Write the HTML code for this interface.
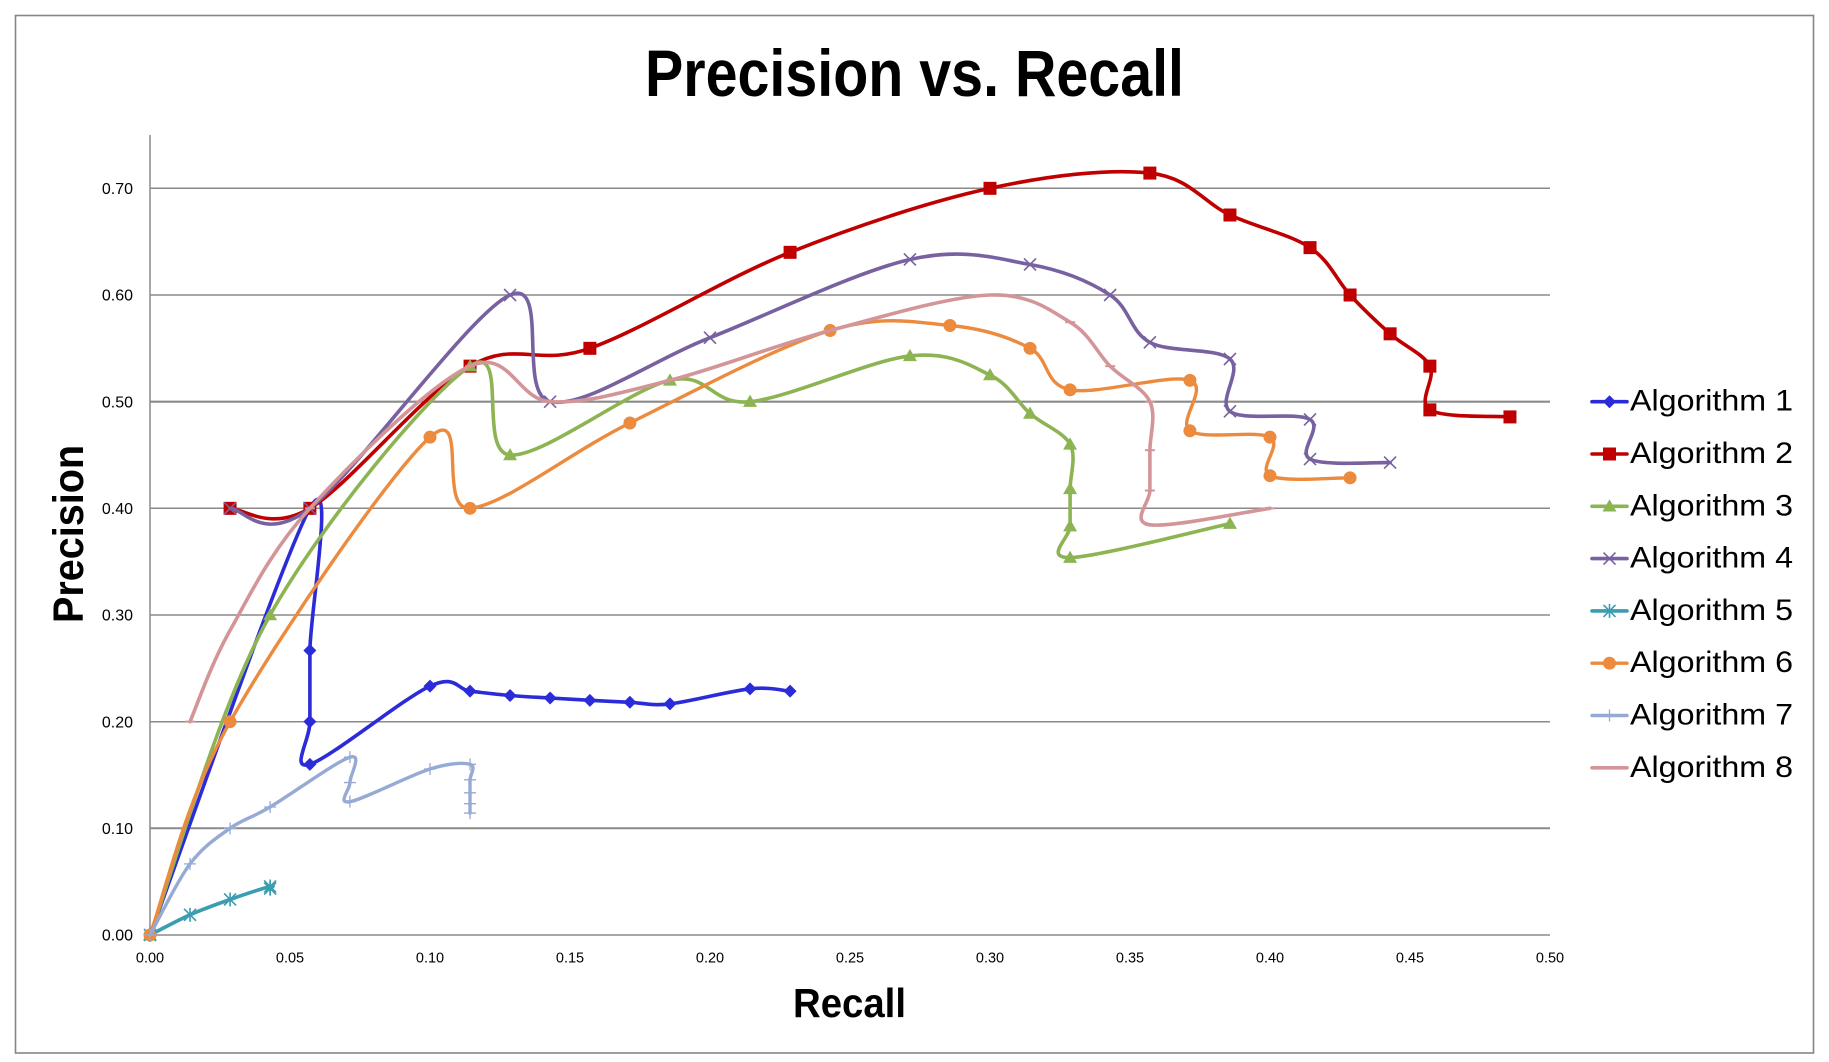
<!DOCTYPE html>
<html>
<head>
<meta charset="utf-8">
<style>
html,body{margin:0;padding:0;background:#fff;}
svg{display:block;}
text{font-family:"Liberation Sans",sans-serif;fill:#000;}
</style>
</head>
<body>
<svg id="chart" xmlns="http://www.w3.org/2000/svg" width="1829" height="1062" viewBox="0 0 1829 1062">
<rect x="0" y="0" width="1829" height="1062" fill="#fff"/>
<rect x="15.5" y="15.5" width="1798" height="1037.5" fill="none" stroke="#868686" stroke-width="1.6"/>
<text x="645" y="96" font-size="66" font-weight="bold" textLength="539" lengthAdjust="spacingAndGlyphs">Precision vs. Recall</text>
<g id="grid" stroke="#8a8a8a" stroke-width="1.5">
<line x1="150" y1="828.3" x2="1550" y2="828.3" stroke-width="2"/>
<line x1="150" y1="721.7" x2="1550" y2="721.7"/>
<line x1="150" y1="615" x2="1550" y2="615"/>
<line x1="150" y1="508.3" x2="1550" y2="508.3"/>
<line x1="150" y1="401.7" x2="1550" y2="401.7" stroke-width="2.2"/>
<line x1="150" y1="295" x2="1550" y2="295"/>
<line x1="150" y1="188.3" x2="1550" y2="188.3"/>
<line x1="150" y1="135" x2="150" y2="935"/>
<line x1="150" y1="935" x2="1550" y2="935"/>
</g>
<g font-size="16" text-anchor="end">
<text x="133" y="940.7">0.00</text>
<text x="133" y="834">0.10</text>
<text x="133" y="727.4">0.20</text>
<text x="133" y="620.7">0.30</text>
<text x="133" y="514">0.40</text>
<text x="133" y="407.4">0.50</text>
<text x="133" y="300.7">0.60</text>
<text x="133" y="194">0.70</text>
</g>
<g font-size="14.5" text-anchor="middle">
<text x="150" y="962.5">0.00</text>
<text x="290" y="962.5">0.05</text>
<text x="430" y="962.5">0.10</text>
<text x="570" y="962.5">0.15</text>
<text x="710" y="962.5">0.20</text>
<text x="850" y="962.5">0.25</text>
<text x="990" y="962.5">0.30</text>
<text x="1130" y="962.5">0.35</text>
<text x="1270" y="962.5">0.40</text>
<text x="1410" y="962.5">0.45</text>
<text x="1550" y="962.5">0.50</text>
</g>
<text transform="translate(83,623) rotate(-90)" font-size="43" font-weight="bold" textLength="178" lengthAdjust="spacingAndGlyphs">Precision</text>
<text x="793" y="1017" font-size="41" font-weight="bold" textLength="113" lengthAdjust="spacingAndGlyphs">Recall</text>
<g id="series"></g>
<g id="legend" font-size="29.5">
<text x="1630" y="410.7" textLength="163" lengthAdjust="spacingAndGlyphs">Algorithm 1</text>
<text x="1630" y="463" textLength="163" lengthAdjust="spacingAndGlyphs">Algorithm 2</text>
<text x="1630" y="515.3" textLength="163" lengthAdjust="spacingAndGlyphs">Algorithm 3</text>
<text x="1630" y="567.6" textLength="163" lengthAdjust="spacingAndGlyphs">Algorithm 4</text>
<text x="1630" y="619.9" textLength="163" lengthAdjust="spacingAndGlyphs">Algorithm 5</text>
<text x="1630" y="672.2" textLength="163" lengthAdjust="spacingAndGlyphs">Algorithm 6</text>
<text x="1630" y="724.5" textLength="163" lengthAdjust="spacingAndGlyphs">Algorithm 7</text>
<text x="1630" y="776.8" textLength="163" lengthAdjust="spacingAndGlyphs">Algorithm 8</text>
</g>
</svg>
<script>
(function(){
var NS="http://www.w3.org/2000/svg";
function X(x){return 150+2800*x;}
function Y(y){return 935-1066.67*y;}
var series=[
 {c:"#2B2BD9",m:"diamond",w:3.6,d:[[0,0],[0.0571,0.40],[0.0571,0.2667],[0.0571,0.20],[0.0571,0.16],[0.10,0.2333],[0.1143,0.2286],[0.1286,0.2245],[0.1429,0.2222],[0.1571,0.22],[0.1714,0.2182],[0.1857,0.2167],[0.2143,0.2308],[0.2286,0.2286]]},
 {c:"#C00000",m:"square",w:3.6,d:[[0.0286,0.40],[0.0571,0.40],[0.1143,0.5333],[0.1571,0.55],[0.2286,0.64],[0.30,0.70],[0.3571,0.7143],[0.3857,0.675],[0.4143,0.6444],[0.4286,0.60],[0.4429,0.5636],[0.4571,0.5333],[0.4571,0.4923],[0.4857,0.4857]]},
 {c:"#8DB452",m:"triangle",w:3.6,d:[[0,0],[0.0429,0.30],[0.1143,0.5333],[0.1286,0.45],[0.1857,0.52],[0.2143,0.50],[0.2714,0.5429],[0.30,0.525],[0.3143,0.4889],[0.3286,0.46],[0.3286,0.4182],[0.3286,0.3833],[0.3286,0.3538],[0.3857,0.3857]]},
 {c:"#7861A0",m:"x",w:3.6,d:[[0.0286,0.40],[0.0571,0.40],[0.1286,0.60],[0.1429,0.50],[0.20,0.56],[0.2714,0.6333],[0.3143,0.6286],[0.3429,0.60],[0.3571,0.5556],[0.3857,0.54],[0.3857,0.4909],[0.4143,0.4833],[0.4143,0.4462],[0.4429,0.4429]]},
 {c:"#3A9DB0",m:"star",w:3.6,d:[[0,0],[0.0143,0.0189],[0.0286,0.0333],[0.0429,0.0455],[0.0429,0.0435]]},
 {c:"#EC8A3D",m:"circle",w:3.4,d:[[0,0],[0.0286,0.20],[0.10,0.4667],[0.1143,0.40],[0.1714,0.48],[0.2429,0.5667],[0.2857,0.5714],[0.3143,0.55],[0.3286,0.5111],[0.3714,0.52],[0.3714,0.4727],[0.40,0.4667],[0.40,0.4306],[0.4286,0.4286]]},
 {c:"#96AAD4",m:"plus",w:3.4,d:[[0,0],[0.0143,0.0667],[0.0286,0.10],[0.0429,0.12],[0.0714,0.1667],[0.0714,0.1429],[0.0714,0.125],[0.10,0.1556],[0.1143,0.16],[0.1143,0.1455],[0.1143,0.1333],[0.1143,0.1231],[0.1143,0.1143]]},
 {c:"#D39597",m:"dash",w:3.6,skip:[1],d:[[0.0143,0.20],[0.0286,0.2857],[0.0571,0.40],[0.1143,0.5333],[0.1429,0.50],[0.1857,0.52],[0.2429,0.5667],[0.30,0.60],[0.3286,0.5745],[0.3429,0.5333],[0.3571,0.50],[0.3571,0.4545],[0.3571,0.4167],[0.3571,0.3846],[0.40,0.40]]}
];
function el(tag,attrs,parent){var e=document.createElementNS(NS,tag);for(var k in attrs)e.setAttribute(k,attrs[k]);parent.appendChild(e);return e;}
function pathFor(pts){
 var p=pts.map(function(a){return [X(a[0]),Y(a[1])];});
 var d="M"+p[0][0].toFixed(1)+","+p[0][1].toFixed(1);
 for(var i=0;i<p.length-1;i++){
  var p0=p[i-1]||p[i],p1=p[i],p2=p[i+1],p3=p[i+2]||p[i+1];
  var c1=[p1[0]+(p2[0]-p0[0])/6,p1[1]+(p2[1]-p0[1])/6];
  var c2=[p2[0]-(p3[0]-p1[0])/6,p2[1]-(p3[1]-p1[1])/6];
  d+=" C"+c1[0].toFixed(1)+","+c1[1].toFixed(1)+" "+c2[0].toFixed(1)+","+c2[1].toFixed(1)+" "+p2[0].toFixed(1)+","+p2[1].toFixed(1);
 }
 return d;
}
function marker(type,cx,cy,c,g){
 var s;
 switch(type){
  case "diamond": s=6.5; el("polygon",{points:(cx)+","+(cy-s)+" "+(cx+s)+","+cy+" "+cx+","+(cy+s)+" "+(cx-s)+","+cy,fill:c},g);break;
  case "square": s=6.5; el("rect",{x:cx-s,y:cy-s,width:2*s,height:2*s,fill:c},g);break;
  case "triangle": s=7; el("polygon",{points:cx+","+(cy-s)+" "+(cx+s)+","+(cy+s*0.75)+" "+(cx-s)+","+(cy+s*0.75),fill:c},g);break;
  case "circle": el("circle",{cx:cx,cy:cy,r:6.5,fill:c},g);break;
  case "x": s=6; el("path",{d:"M"+(cx-s)+","+(cy-s)+"L"+(cx+s)+","+(cy+s)+"M"+(cx-s)+","+(cy+s)+"L"+(cx+s)+","+(cy-s),stroke:c,"stroke-width":1.6,fill:"none"},g);break;
  case "star": s=6; el("path",{d:"M"+(cx-s)+","+(cy-s)+"L"+(cx+s)+","+(cy+s)+"M"+(cx-s)+","+(cy+s)+"L"+(cx+s)+","+(cy-s)+"M"+cx+","+(cy-s-1)+"L"+cx+","+(cy+s+1),stroke:c,"stroke-width":1.6,fill:"none"},g);break;
  case "plus": s=6; el("path",{d:"M"+(cx-s)+","+cy+"L"+(cx+s)+","+cy+"M"+cx+","+(cy-s)+"L"+cx+","+(cy+s),stroke:c,"stroke-width":1.3,fill:"none"},g);break;
  case "dash": s=5; el("path",{d:"M"+(cx-s)+","+cy+"L"+(cx+s)+","+cy,stroke:c,"stroke-width":2,fill:"none"},g);break;
 }
}
var sg=document.getElementById("series");
series.forEach(function(s){
 var g=el("g",{},sg);
 el("path",{d:pathFor(s.d),fill:"none",stroke:s.c,"stroke-width":s.w,"stroke-linejoin":"round","stroke-linecap":"round"},g);
 s.d.forEach(function(a,i){ if(s.skip && s.skip.indexOf(i)>=0) return; marker(s.m,X(a[0]),Y(a[1]),s.c,g);});
});
var lg=document.getElementById("legend");
series.forEach(function(s,i){
 var y=401.7+52.3*i;
 var g=el("g",{},lg);
 el("line",{x1:1592,y1:y,x2:1627,y2:y,stroke:s.c,"stroke-width":s.w,"stroke-linecap":"round"},g);
 marker(s.m,1609.5,y,s.c,g);
});
})();
</script>
</body>
</html>
